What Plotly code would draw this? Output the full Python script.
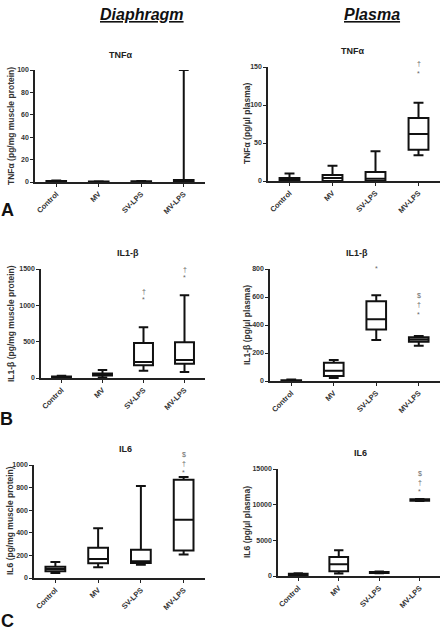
import plotly.graph_objects as go

W, H = 441, 632

categories = ["Control", "MV", "SV-LPS", "MV-LPS"]

# Diaphragm TNFa
tnf_dia_lf = [0.1, 0.0, 0.1, 0.2]
tnf_dia_q1 = [0.3, 0.1, 0.2, 0.5]
tnf_dia_med = [0.6, 0.2, 0.4, 1.0]
tnf_dia_q3 = [1.0, 0.4, 0.7, 1.8]
tnf_dia_uf = [1.3, 0.6, 0.9, 100]

# Plasma TNFa
tnf_pl_lf = [0, 0, 0, 34]
tnf_pl_q1 = [0, 0, 0, 41]
tnf_pl_med = [2, 4, 3, 62]
tnf_pl_q3 = [4, 8, 12, 83]
tnf_pl_uf = [10, 20, 39, 103]

# Diaphragm IL1-b
il1_dia_lf = [5, 5, 100, 82]
il1_dia_q1 = [10, 35, 175, 196]
il1_dia_med = [15, 50, 220, 248]
il1_dia_q3 = [22, 62, 481, 491]
il1_dia_uf = [30, 110, 697, 1138]

# Plasma IL1-b
il1_pl_lf = [0, 22, 293, 251]
il1_pl_q1 = [1, 36, 368, 280]
il1_pl_med = [3, 74, 441, 297]
il1_pl_q3 = [6, 131, 570, 312]
il1_pl_uf = [10, 150, 613, 322]

# Diaphragm IL6
il6_dia_lf = [44, 95, 118, 208]
il6_dia_q1 = [60, 130, 133, 244]
il6_dia_med = [80, 168, 148, 516]
il6_dia_q3 = [100, 268, 250, 870]
il6_dia_uf = [142, 440, 815, 893]

# Plasma IL6
il6_pl_lf = [100, 350, 380, 10500]
il6_pl_q1 = [150, 680, 430, 10560]
il6_pl_med = [220, 1650, 500, 10650]
il6_pl_q3 = [320, 2650, 560, 10760]
il6_pl_uf = [400, 3620, 620, 10800]

# significance markers: (category index, value, symbol)
tnf_pl_sig = [(3, 154, "†"), (3, 142, "*")]
il1_dia_sig = [(2, 1190, "†"), (2, 1080, "*"), (3, 1500, "†"), (3, 1380, "*")]
il1_pl_sig = [(2, 807, "*"), (3, 611, "$"), (3, 543, "†"), (3, 477, "*")]
il6_dia_sig = [(3, 1095, "$"), (3, 1015, "†"), (3, 932, "*")]
il6_pl_sig = [(3, 14430, "$"), (3, 13117, "†"), (3, 11846, "*")]

FONT = "Liberation Sans, Arial"

def px(x):
    return x / W

def py(y):
    return 1 - y / H

panels = [
    (1, 35, 205, 182, 70, 100, 20,
     (tnf_dia_lf, tnf_dia_q1, tnf_dia_med, tnf_dia_q3, tnf_dia_uf),
     "TNFα", (120, 55), "TNFα (pg/mg muscle protein)", (11, 126), []),
    (2, 268, 440, 181, 67, 150, 50,
     (tnf_pl_lf, tnf_pl_q1, tnf_pl_med, tnf_pl_q3, tnf_pl_uf),
     "TNFα", (352, 51), "TNFα (pg/µl plasma)", (247, 123), tnf_pl_sig),
    (3, 41, 205, 378, 269, 1500, 500,
     (il1_dia_lf, il1_dia_q1, il1_dia_med, il1_dia_q3, il1_dia_uf),
     "IL1-β", (128, 253), "IL1-β (pg/mg muscle protein)", (11, 324), il1_dia_sig),
    (4, 270, 440, 381, 269, 800, 200,
     (il1_pl_lf, il1_pl_q1, il1_pl_med, il1_pl_q3, il1_pl_uf),
     "IL1-β", (357, 253), "IL1-β (pg/µl plasma)", (247, 325), il1_pl_sig),
    (5, 34, 205, 578, 465, 1000, 200,
     (il6_dia_lf, il6_dia_q1, il6_dia_med, il6_dia_q3, il6_dia_uf),
     "IL6", (125, 449), "IL6 (pg/mg muscle protein)", (10, 521), il6_dia_sig),
    (6, 278, 440, 576, 469, 15000, 5000,
     (il6_pl_lf, il6_pl_q1, il6_pl_med, il6_pl_q3, il6_pl_uf),
     "IL6", (360, 453), "IL6 (pg/µl plasma)", (247, 522), il6_pl_sig),
]

fig = go.Figure()
annotations = []

for (i, x0, x1, yz, yt, ymax, dtick, data, title, txy, ytitle, ytxy, sig) in panels:
    lf, q1, med, q3, uf = data
    xa = "x" if i == 1 else f"x{i}"
    ya = "y" if i == 1 else f"y{i}"
    fig.add_trace(go.Box(
        x=categories, lowerfence=lf, q1=q1, median=med, q3=q3, upperfence=uf,
        xaxis=xa, yaxis=ya, boxpoints=False, whiskerwidth=0.5,
        fillcolor="white", line=dict(color="#111111", width=2),
        showlegend=False, hoverinfo="skip",
    ))
    xkey = "xaxis" if i == 1 else f"xaxis{i}"
    ykey = "yaxis" if i == 1 else f"yaxis{i}"
    fig.update_layout({
        xkey: dict(
            domain=[px(x0), px(x1)], anchor=ya, type="category",
            categoryorder="array", categoryarray=categories,
            range=[-0.5, 3.5], showline=True, linecolor="#222222", linewidth=1.5,
            ticks="outside", ticklen=3, tickwidth=1, tickcolor="#222222",
            tickangle=-45, showgrid=False, zeroline=False, automargin=False,
            tickfont=dict(family=FONT, size=7.5, color="#333333", weight="bold"),
        ),
        ykey: dict(
            domain=[py(yz), py(yt)], anchor=xa, range=[0, ymax], dtick=dtick,
            tickformat="d",
            showline=True, linecolor="#222222", linewidth=1.5,
            ticks="outside", ticklen=3, tickwidth=1, tickcolor="#222222",
            showgrid=False, zeroline=False, automargin=False,
            tickfont=dict(family=FONT, size=7, color="#333333", weight="bold"),
        ),
    })
    annotations.append(dict(
        text=f"<b>{title}</b>", x=px(txy[0]), y=py(txy[1]), xref="paper", yref="paper",
        showarrow=False, font=dict(family=FONT, size=9, color="#222222"),
        xanchor="center", yanchor="middle"))
    annotations.append(dict(
        text=f"<b>{ytitle}</b>", x=px(ytxy[0]), y=py(ytxy[1]), xref="paper", yref="paper",
        showarrow=False, textangle=-90, font=dict(family=FONT, size=8.5, color="#333333"),
        xanchor="center", yanchor="middle"))
    for ci, val, sym in sig:
        # position in axis-domain fractions (so marks above the range stay visible)
        annotations.append(dict(
            text=sym, x=(ci + 0.5) / len(categories), y=val / ymax,
            xref=f"{xa} domain", yref=f"{ya} domain", showarrow=False,
            font=dict(family=FONT, size=7, color="#666666"),
            xanchor="center", yanchor="middle"))

# column headers
annotations.append(dict(text="<b><i><u>Diaphragm</u></i></b>", x=px(142), y=py(14),
                        xref="paper", yref="paper", showarrow=False,
                        font=dict(family=FONT, size=16, color="#111111"),
                        xanchor="center", yanchor="middle"))
annotations.append(dict(text="<b><i><u>Plasma</u></i></b>", x=px(372), y=py(14),
                        xref="paper", yref="paper", showarrow=False,
                        font=dict(family=FONT, size=16, color="#111111"),
                        xanchor="center", yanchor="middle"))
# panel letters
for letter, (lx, ly) in zip(["A", "B", "C"], [(7, 210), (6, 419), (7, 621)]):
    annotations.append(dict(text=f"<b>{letter}</b>", x=px(lx), y=py(ly),
                            xref="paper", yref="paper", showarrow=False,
                            font=dict(family=FONT, size=18, color="#111111"),
                            xanchor="center", yanchor="middle"))

fig.update_layout(
    width=W, height=H, margin=dict(l=0, r=0, t=0, b=0),
    paper_bgcolor="white", plot_bgcolor="white",
    boxgap=0.34, annotations=annotations, showlegend=False,
)

fig.write_html("out.html")
